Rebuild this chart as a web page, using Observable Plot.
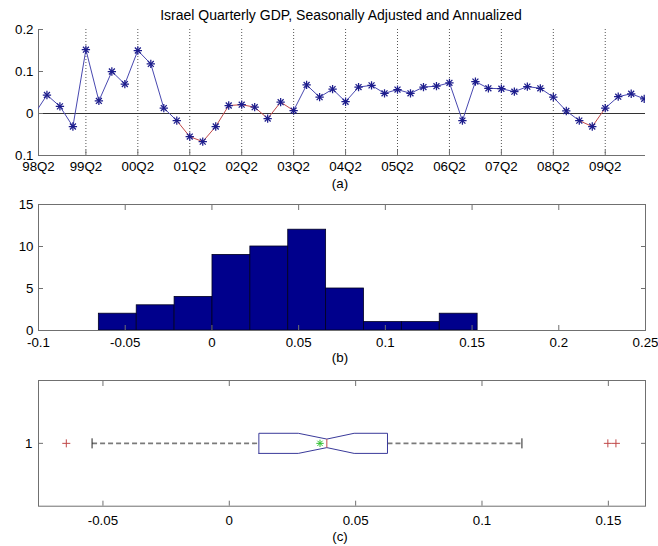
<!DOCTYPE html>
<html>
<head>
<meta charset="utf-8">
<script src="https://cdn.jsdelivr.net/npm/d3@7"></script>
<script src="https://cdn.jsdelivr.net/npm/@observablehq/plot@0.6"></script>
<style>
  html, body { margin: 0; padding: 0; background: #fff; overflow: hidden; }
  #fig { position: relative; width: 658px; height: 546px; font-family: "Liberation Sans", Arial, sans-serif; }
  #fig svg { position: absolute; left: 0; top: 0; background: transparent; overflow: visible; }
</style>
</head>
<body>
<div id="fig"></div>
<script>
// ---- (a) quarterly growth series ----
const quarters = [
  "98Q2","98Q3","98Q4",
  "99Q1","99Q2","99Q3","99Q4",
  "00Q1","00Q2","00Q3","00Q4",
  "01Q1","01Q2","01Q3","01Q4",
  "02Q1","02Q2","02Q3","02Q4",
  "03Q1","03Q2","03Q3","03Q4",
  "04Q1","04Q2","04Q3","04Q4",
  "05Q1","05Q2","05Q3","05Q4",
  "06Q1","06Q2","06Q3","06Q4",
  "07Q1","07Q2","07Q3","07Q4",
  "08Q1","08Q2","08Q3","08Q4",
  "09Q1","09Q2","09Q3","09Q4",
  "10Q1"
];
const gdpGrowth = [
  -0.003, 0.044, 0.017,
  -0.031, 0.152, 0.030, 0.100,
  0.070, 0.150, 0.118, 0.013,
  -0.017, -0.055, -0.067, -0.031,
  0.019, 0.021, 0.015, -0.012,
  0.027, 0.007, 0.068, 0.039,
  0.058, 0.028, 0.063, 0.067,
  0.048, 0.057, 0.048, 0.063,
  0.065, 0.073, -0.017, 0.076,
  0.060, 0.059, 0.052, 0.064,
  0.060, 0.039, 0.006, -0.017,
  -0.031, 0.013, 0.040, 0.047,
  0.035
];
// stretches drawn in red
const recessionSpans = [["01Q1", "03Q2"], ["08Q4", "09Q2"]];
const xTickQuarters = ["98Q2","99Q2","00Q2","01Q2","02Q2","03Q2","04Q2","05Q2","06Q2","07Q2","08Q2","09Q2"];
const yTicksA = [-0.1, 0, 0.1, 0.2];
const yTickLabelsA = ["0.1", "0", "0.1", "0.2"];

// ---- (b) histogram ----
const histCounts = [2, 3, 4, 9, 10, 12, 5, 1, 1, 2];
const histRange = [-0.0652, 0.1532];
const histXTicks = [-0.1, -0.05, 0, 0.05, 0.1, 0.15, 0.2, 0.25];
const histYTicks = [0, 5, 10, 15];

// ---- (c) notched box plot ----
const boxQuartiles = [0.0117, 0.0386, 0.0626];   // q1, median, q3
const boxNotch = [0.0273, 0.0494];
const boxWhiskers = [-0.0543, 0.1158];
const boxOutliers = [-0.0645, 0.1498, 0.1530];
const boxMean = 0.0359;
const boxXTicks = [-0.05, 0, 0.05, 0.1, 0.15];

// ---- styling ----
const W = 658, H = 546;
const axisColor = "#707070";
const lineBlue = "#4848b0";
const starBlue = "#1c1c8c";
const lineRed = "#c04848";
const barFill = "#00008c";
const fontSize = 13.3;
const fmt = d => String(+d.toFixed(3));
const fig = document.getElementById("fig");
const base = {width: W, height: H, marginLeft: 38, marginRight: 13,
  style: {fontFamily: "Liberation Sans, Arial, sans-serif", fontSize: fontSize + "px", background: "transparent", color: "#000"}};

// inward tick marks for each side of a frame
function inwardTicks(xt, yt, sides) {
  const m = [];
  const none = () => "";
  if (sides.includes("bottom")) m.push(Plot.axisX(xt, {anchor: "bottom", tickSize: 5, dy: -5, tickFormat: none, label: null, color: axisColor}));
  if (sides.includes("top")) m.push(Plot.axisX(xt, {anchor: "top", tickSize: 5, dy: 5, tickFormat: none, label: null, color: axisColor}));
  if (sides.includes("left")) m.push(Plot.axisY(yt, {anchor: "left", tickSize: 5, dx: 5, tickFormat: none, label: null, color: axisColor}));
  if (sides.includes("right")) m.push(Plot.axisY(yt, {anchor: "right", tickSize: 5, dx: -5, tickFormat: none, label: null, color: axisColor}));
  return m;
}

// ===== (a) =====
const series = quarters.map((q, i) => ({i, q, v: gdpGrowth[i]}));
const spanIdx = recessionSpans.map(([a, b]) => [quarters.indexOf(a), quarters.indexOf(b)]);
const segments = d3.pairs(series).map(([a, b]) => ({
  x1: a.i, y1: a.v, x2: b.i, y2: b.v,
  color: spanIdx.some(([s, e]) => a.i >= s && b.i <= e) ? lineRed : lineBlue
}));
// the axis opens just after the first quarter
const xDomainA = [0.35, quarters.length - 0.9];
const xTicksA = xTickQuarters.map((q, k) => k === 0 ? xDomainA[0] : quarters.indexOf(q));
const xLabelA = new Map(xTicksA.map((t, k) => [t, xTickQuarters[k]]));
const yLabelA = new Map(yTicksA.map((t, k) => [t, yTickLabelsA[k]]));

const plotA = Plot.plot({
  ...base, marginTop: 29, marginBottom: H - 155,
  x: {domain: xDomainA},
  y: {domain: [-0.1, 0.2]},
  marks: [
    Plot.ruleX(xTicksA.slice(1), {stroke: "#555", strokeDasharray: "1,2"}),
    Plot.ruleY([0], {stroke: "#333"}),
    Plot.ruleY([-0.1], {stroke: axisColor}),
    Plot.ruleX([xDomainA[0]], {stroke: axisColor}),
    Plot.link(segments, {x1: "x1", y1: "y1", x2: "x2", y2: "y2", stroke: "color", strokeWidth: 1, clip: true}),
    Plot.dot(series, {x: "i", y: "v", symbol: "plus", r: 2.8, stroke: starBlue, strokeWidth: 1.25, clip: true}),
    Plot.dot(series, {x: "i", y: "v", symbol: "times", r: 2.8, stroke: starBlue, strokeWidth: 1.25, clip: true}),
    ...inwardTicks(xTicksA.slice(1), yTicksA, ["bottom", "left"]),
    Plot.axisX(xTicksA, {anchor: "bottom", tickSize: 0, tickPadding: 6.5, tickFormat: d => xLabelA.get(d), label: null, fontSize, color: "#000"}),
    Plot.axisY(yTicksA, {anchor: "left", tickSize: 0, tickPadding: 5, tickFormat: d => yLabelA.get(d), label: null, fontSize, color: "#000"})
  ]
});

// ===== (b) =====
const binW = (histRange[1] - histRange[0]) / histCounts.length;
const bins = histCounts.map((c, k) => ({x0: histRange[0] + k * binW, x1: histRange[0] + (k + 1) * binW, count: c}));
const plotB = Plot.plot({
  ...base, marginTop: 204, marginBottom: H - 330,
  x: {domain: [-0.1, 0.25]},
  y: {domain: [0, 15]},
  marks: [
    Plot.rectY(bins, {x1: "x0", x2: "x1", y: "count", fill: barFill, stroke: "#000020", strokeWidth: 0.8}),
    Plot.frame({stroke: axisColor}),
    ...inwardTicks(histXTicks, histYTicks, ["bottom", "top", "left", "right"]),
    Plot.axisX(histXTicks, {anchor: "bottom", tickSize: 0, tickPadding: 7.5, tickFormat: fmt, label: null, fontSize, color: "#000"}),
    Plot.axisY(histYTicks, {anchor: "left", tickSize: 0, tickPadding: 5, tickFormat: fmt, label: null, fontSize, color: "#000"})
  ]
});

// ===== (c) =====
const [q1, med, q3] = boxQuartiles;
const h = 0.08, n = 0.034, cap = 0.04;
const outline = [
  [q1, 1 - h], [boxNotch[0], 1 - h], [med, 1 - n], [boxNotch[1], 1 - h], [q3, 1 - h],
  [q3, 1 + h], [boxNotch[1], 1 + h], [med, 1 + n], [boxNotch[0], 1 + h], [q1, 1 + h], [q1, 1 - h]
];
const plotC = Plot.plot({
  ...base, marginTop: 380, marginBottom: H - 505.7,
  x: {domain: [-0.0755, 0.1647]},
  y: {domain: [0.5, 1.5]},
  marks: [
    Plot.frame({stroke: axisColor}),
    Plot.link([[boxWhiskers[0], q1], [q3, boxWhiskers[1]]], {x1: d => d[0], x2: d => d[1], y1: () => 1, y2: () => 1,
      stroke: "#7a7a7a", strokeWidth: 1.6, strokeDasharray: "5,3"}),
    Plot.link(boxWhiskers, {x1: d => d, x2: d => d, y1: () => 1 - cap, y2: () => 1 + cap, stroke: "#222"}),
    Plot.line(outline, {x: d => d[0], y: d => d[1], stroke: "#3a3a9a", strokeWidth: 1}),
    Plot.link([med], {x1: d => d, x2: d => d, y1: () => 1 - n, y2: () => 1 + n, stroke: lineRed}),
    Plot.dot(boxOutliers, {x: d => d, y: () => 1, symbol: "plus", r: 2.7, stroke: lineRed, strokeWidth: 1}),
    Plot.dot([boxMean], {x: d => d, y: () => 1, symbol: "plus", r: 2.5, stroke: "#30c030", strokeWidth: 1}),
    Plot.dot([boxMean], {x: d => d, y: () => 1, symbol: "times", r: 2.5, stroke: "#30c030", strokeWidth: 1}),
    ...inwardTicks(boxXTicks, [1], ["bottom", "top", "left", "right"]),
    Plot.axisX(boxXTicks, {anchor: "bottom", tickSize: 0, tickPadding: 9, tickFormat: fmt, label: null, fontSize, color: "#000"}),
    Plot.axisY([1], {anchor: "left", tickSize: 0, tickPadding: 6, tickFormat: fmt, label: null, fontSize, color: "#000"})
  ]
});

fig.append(plotA, plotB, plotC);

// title and panel captions
const overlay = d3.select(fig).append("svg").attr("width", W).attr("height", H)
  .style("font-family", "Liberation Sans, Arial, sans-serif");
overlay.append("text").attr("x", 341).attr("y", 20).attr("text-anchor", "middle").attr("font-size", 14)
  .text("Israel Quarterly GDP, Seasonally Adjusted and Annualized");
[["(a)", 188], ["(b)", 362], ["(c)", 541]].forEach(([t, y]) =>
  overlay.append("text").attr("x", 340).attr("y", y).attr("text-anchor", "middle").attr("font-size", fontSize).text(t));
</script>
</body>
</html>
